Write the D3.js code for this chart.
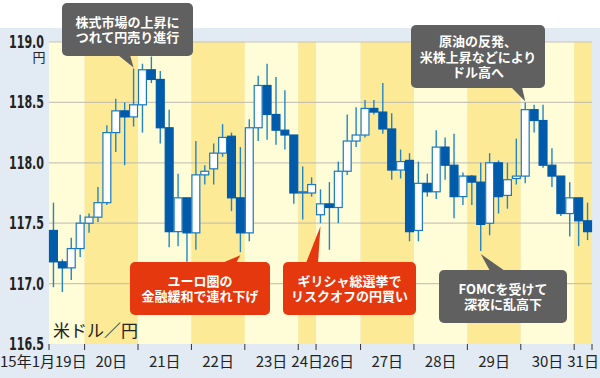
<!DOCTYPE html>
<html>
<head>
<meta charset="utf-8">
<script src="https://cdn.jsdelivr.net/npm/d3@7"></script>
<style>
  html, body { margin: 0; padding: 0; background: #ffffff; }
  svg { display: block; }
</style>
</head>
<body>
<div id="chart"></div>
<script>
// Data
var day_labels      =   ["15年1月19日", "20日", "21日", "22日", "23日", "24日", "26日", "27日", "28日", "29日", "30日", "31日"];
var day_candles     =   [4, 6, 6, 6, 6, 2, 5, 6, 6, 6, 6, 2];

var opens   = [117.44, 117.18, 117.13, 117.29, 117.50, 117.55, 117.67, 118.25, 118.43, 118.38,
               118.48, 118.77, 118.69, 118.29, 117.43, 117.71, 117.42, 117.90, 117.95, 118.08,
               118.22, 117.71, 117.42, 118.29, 118.64, 118.40, 118.27, 118.23, 117.75, 117.75,
               117.57, 117.66, 117.63, 117.93, 118.18, 118.23, 118.45, 118.42, 118.28, 117.94,
               118.02, 117.44, 117.83, 117.76, 118.13, 117.98, 117.72, 117.89, 117.84, 117.50,
               118.00, 117.73, 117.87, 117.89, 118.44, 118.35, 117.98, 117.89, 117.58, 117.71,
               117.52];
var highs   = [117.67, 117.20, 117.38, 117.57, 117.58, 117.80, 118.31, 118.53, 118.50, 118.78,
               118.82, 118.88, 118.76, 118.44, 117.91, 117.71, 118.18, 117.98, 118.16, 118.32,
               118.25, 118.13, 118.36, 118.72, 118.82, 118.71, 118.60, 118.23, 117.97, 117.88,
               117.78, 117.84, 118.01, 118.40, 118.46, 118.52, 118.52, 118.66, 118.41, 118.11,
               118.08, 118.01, 117.91, 118.27, 118.21, 118.24, 117.92, 117.90, 118.00, 118.08,
               118.02, 118.00, 118.20, 118.50, 118.48, 118.48, 118.12, 117.89, 117.84, 117.71,
               117.67];
var lows    = [116.97, 116.93, 117.03, 117.22, 117.42, 117.51, 117.65, 118.09, 117.98, 118.30,
               118.25, 118.66, 118.16, 117.30, 117.31, 117.18, 117.28, 117.82, 117.82, 118.05,
               117.60, 117.26, 117.35, 118.18, 118.19, 118.15, 118.11, 117.66, 117.53, 117.72,
               117.50, 117.28, 117.50, 117.90, 118.13, 118.21, 118.40, 118.24, 117.86, 117.87,
               117.35, 117.35, 117.72, 117.70, 117.86, 117.54, 117.65, 117.65, 117.27, 117.40,
               117.58, 117.62, 117.82, 117.83, 118.25, 117.96, 117.80, 117.56, 117.39, 117.31,
               117.36];
var closes  = [117.18, 117.13, 117.29, 117.50, 117.55, 117.67, 118.25, 118.43, 118.38, 118.48,
               118.77, 118.69, 118.29, 117.43, 117.71, 117.42, 117.90, 117.93, 118.08, 118.21,
               117.71, 117.42, 118.29, 118.64, 118.40, 118.27, 118.23, 117.75, 117.76, 117.82,
               117.66, 117.63, 117.93, 118.18, 118.23, 118.45, 118.42, 118.28, 117.94, 118.01,
               117.43, 117.83, 117.76, 118.13, 117.98, 117.72, 117.89, 117.84, 117.49, 118.00,
               117.72, 117.86, 117.89, 118.44, 118.35, 117.98, 117.89, 117.58, 117.71, 117.52,
               117.43];

var y_ticks         =   [116.5, 117.0, 117.5, 118.0, 118.5, 119.0];
var y_unit          =   "円";
var pair_label      =   "米ドル／円";

var note_texts      =   [
    ["株式市場の上昇に", "つれて円売り進行"],
    ["ユーロ圏の", "金融緩和で連れ下げ"],
    ["ギリシャ総選挙で", "リスクオフの円買い"],
    ["原油の反発、", "米株上昇などにより", "ドル高へ"],
    ["FOMCを受けて", "深夜に乱高下"]
];
var note_candles    =   [9, 21, 30, 53, 48];   // candle each note points at


var chart_width     =   600;
var chart_height    =   378;
var plot            =   { left: 49, right: 592, top: 42, bottom: 344 };
var jp_font         =   "'Noto Sans CJK JP', 'Noto Sans', sans-serif";
var num_font        =   "'Liberation Sans Narrow', 'DejaVu Sans Condensed', 'Liberation Sans', sans-serif";

var candles = d3.range(opens.length).map(function(i) {
    return { i: i, o: opens[i], h: highs[i], l: lows[i], c: closes[i] };
});

// Scales
var x_scale         =   d3.scaleBand()
    .domain(d3.range(candles.length))
    .range([plot.left, plot.right])
    .paddingInner(0);

var y_scale         =   d3.scaleLinear()
    .domain([116.5, 119.0])
    .range([plot.bottom, plot.top]);

var bw = x_scale.bandwidth();

// day groups of candles
var days = [];
var start = 0;
day_candles.forEach(function(n, k) {
    days.push({ k: k, label: day_labels[k], x0: x_scale(start), x1: x_scale(start + n - 1) + bw });
    start += n;
});

// SVG
var svg             =   d3.select("#chart")
    .append("svg")
    .attr("width", chart_width)
    .attr("height", chart_height);

svg.append("rect")
    .attr("width", chart_width)
    .attr("height", chart_height)
    .attr("fill", "#e2ebf4");

svg.append("rect")
    .attr("width", chart_width)
    .attr("height", 28)
    .attr("fill", "#ffffff");

// day bands
svg.selectAll("rect.day")
    .data(days)
    .enter()
    .append("rect")
    .attr("class", "day")
    .attr("x", function(d) { return d.x0; })
    .attr("y", plot.top)
    .attr("width", function(d) { return d.x1 - d.x0; })
    .attr("height", plot.bottom - plot.top)
    .attr("fill", function(d) { return d.k % 2 ? "#fdea97" : "#fffcd8"; });

// grid
svg.selectAll("line.grid")
    .data(y_ticks.filter(function(v) { return v > 116.5; }))
    .enter()
    .append("line")
    .attr("x1", plot.left)
    .attr("x2", plot.right)
    .attr("y1", function(d) { return y_scale(d); })
    .attr("y2", function(d) { return y_scale(d); })
    .attr("stroke", "#bdb9b0")
    .attr("stroke-opacity", 0.8)
    .attr("stroke-width", 1.2);

// wicks
svg.selectAll("line.wick")
    .data(candles)
    .enter()
    .append("line")
    .attr("x1", function(d) { return x_scale(d.i) + bw / 2; })
    .attr("x2", function(d) { return x_scale(d.i) + bw / 2; })
    .attr("y1", function(d) { return y_scale(d.h); })
    .attr("y2", function(d) { return y_scale(d.l); })
    .attr("stroke", "#2286c6")
    .attr("stroke-width", 1.4);

// bodies
svg.selectAll("rect.body")
    .data(candles)
    .enter()
    .append("rect")
    .attr("x", function(d) { return x_scale(d.i) + 0.5; })
    .attr("y", function(d) { return y_scale(Math.max(d.o, d.c)); })
    .attr("width", bw - 1)
    .attr("height", function(d) { return Math.max(1, Math.abs(y_scale(d.o) - y_scale(d.c))); })
    .attr("fill", function(d) { return d.c >= d.o ? "#ffffff" : "#005baa"; })
    .attr("stroke", function(d) { return d.c >= d.o ? "#1a78bf" : "#005baa"; })
    .attr("stroke-width", 1.2);

// x ticks
var tick_xs = days.map(function(d) { return d.x0; }).concat([days[days.length - 1].x1]);
svg.selectAll("line.xtick")
    .data(tick_xs)
    .enter()
    .append("line")
    .attr("x1", function(d) { return d; })
    .attr("x2", function(d) { return d; })
    .attr("y1", plot.bottom)
    .attr("y2", plot.bottom + 6)
    .attr("stroke", "#333")
    .attr("stroke-width", 1);

svg.selectAll("text.xlabel")
    .data(days)
    .enter()
    .append("text")
    .attr("x", function(d) { return d.k === 0 ? 0 : (d.x0 + d.x1) / 2; })
    .attr("y", 367)
    .style("text-anchor", function(d) { return d.k === 0 ? "start" : "middle"; })
    .style("font-family", jp_font)
    .style("font-size", "15px")
    .style("fill", "#222")
    .text(function(d) { return d.label; });

// y labels
svg.selectAll("text.ylabel")
    .data(y_ticks)
    .enter()
    .append("text")
    .attr("x", 44)
    .attr("y", function(d) { return y_scale(d) + 6; })
    .attr("textLength", 35)
    .attr("lengthAdjust", "spacingAndGlyphs")
    .style("text-anchor", "end")
    .style("font-family", num_font)
    .style("font-weight", "bold")
    .style("font-size", "17px")
    .style("fill", "#222")
    .text(function(d) { return d.toFixed(1); });

svg.append("text")
    .attr("x", 39)
    .attr("y", 62)
    .style("text-anchor", "middle")
    .style("font-family", jp_font)
    .style("font-size", "13px")
    .style("fill", "#222")
    .text(y_unit);

svg.append("text")
    .attr("x", 53)
    .attr("y", 337)
    .style("font-family", jp_font)
    .style("font-size", "17px")
    .style("fill", "#222")
    .text(pair_label);

// callouts
var gray = "#5f605f";
var red = "#e5380e";
var note_boxes = [
    { x: 62,  y: 3,   w: 131, h: 53, fill: gray, side: "bottom", base: [118, 130] },
    { x: 130, y: 262, w: 140, h: 53, fill: red,  side: "top",    base: [222, 236] },
    { x: 283, y: 262, w: 133, h: 53, fill: red,  side: "top",    base: [306, 318] },
    { x: 411, y: 25,  w: 134, h: 63, fill: gray, side: "bottom", base: [511, 522] },
    { x: 439, y: 270, w: 128, h: 53, fill: gray, side: "top",    base: [490, 505] }
];

var notes = note_boxes.map(function(b, k) {
    var c = candles[note_candles[k]];
    var tip_x = x_scale(c.i) + bw / 2;
    var tip_y = b.side === "bottom" ? y_scale(c.h) - 1 : y_scale(c.l) + 3;
    return Object.assign({ lines: note_texts[k], tip: [tip_x, tip_y] }, b);
});

var note_g = svg.selectAll("g.note")
    .data(notes)
    .enter()
    .append("g")
    .attr("class", "note");

note_g.append("path")
    .attr("d", function(d) {
        var edge = d.side === "bottom" ? d.y + d.h - 1 : d.y + 1;
        return "M" + d.base[0] + "," + edge + "L" + d.tip[0] + "," + d.tip[1] + "L" + d.base[1] + "," + edge + "Z";
    })
    .attr("fill", function(d) { return d.fill; });

note_g.append("rect")
    .attr("x", function(d) { return d.x; })
    .attr("y", function(d) { return d.y; })
    .attr("width", function(d) { return d.w; })
    .attr("height", function(d) { return d.h; })
    .attr("rx", 5)
    .attr("fill", function(d) { return d.fill; });

note_g.each(function(d) {
    var g = d3.select(this);
    var lh = 15.8;
    var mid = d.y + d.h / 2;
    d.lines.forEach(function(line, j) {
        g.append("text")
            .attr("x", d.x + d.w / 2)
            .attr("y", mid + (j - (d.lines.length - 1) / 2) * lh + 5)
            .style("text-anchor", "middle")
            .style("font-family", jp_font)
            .style("font-weight", "bold")
            .style("font-size", "13px")
            .style("fill", "#ffffff")
            .text(line);
    });
});
</script>
</body>
</html>
